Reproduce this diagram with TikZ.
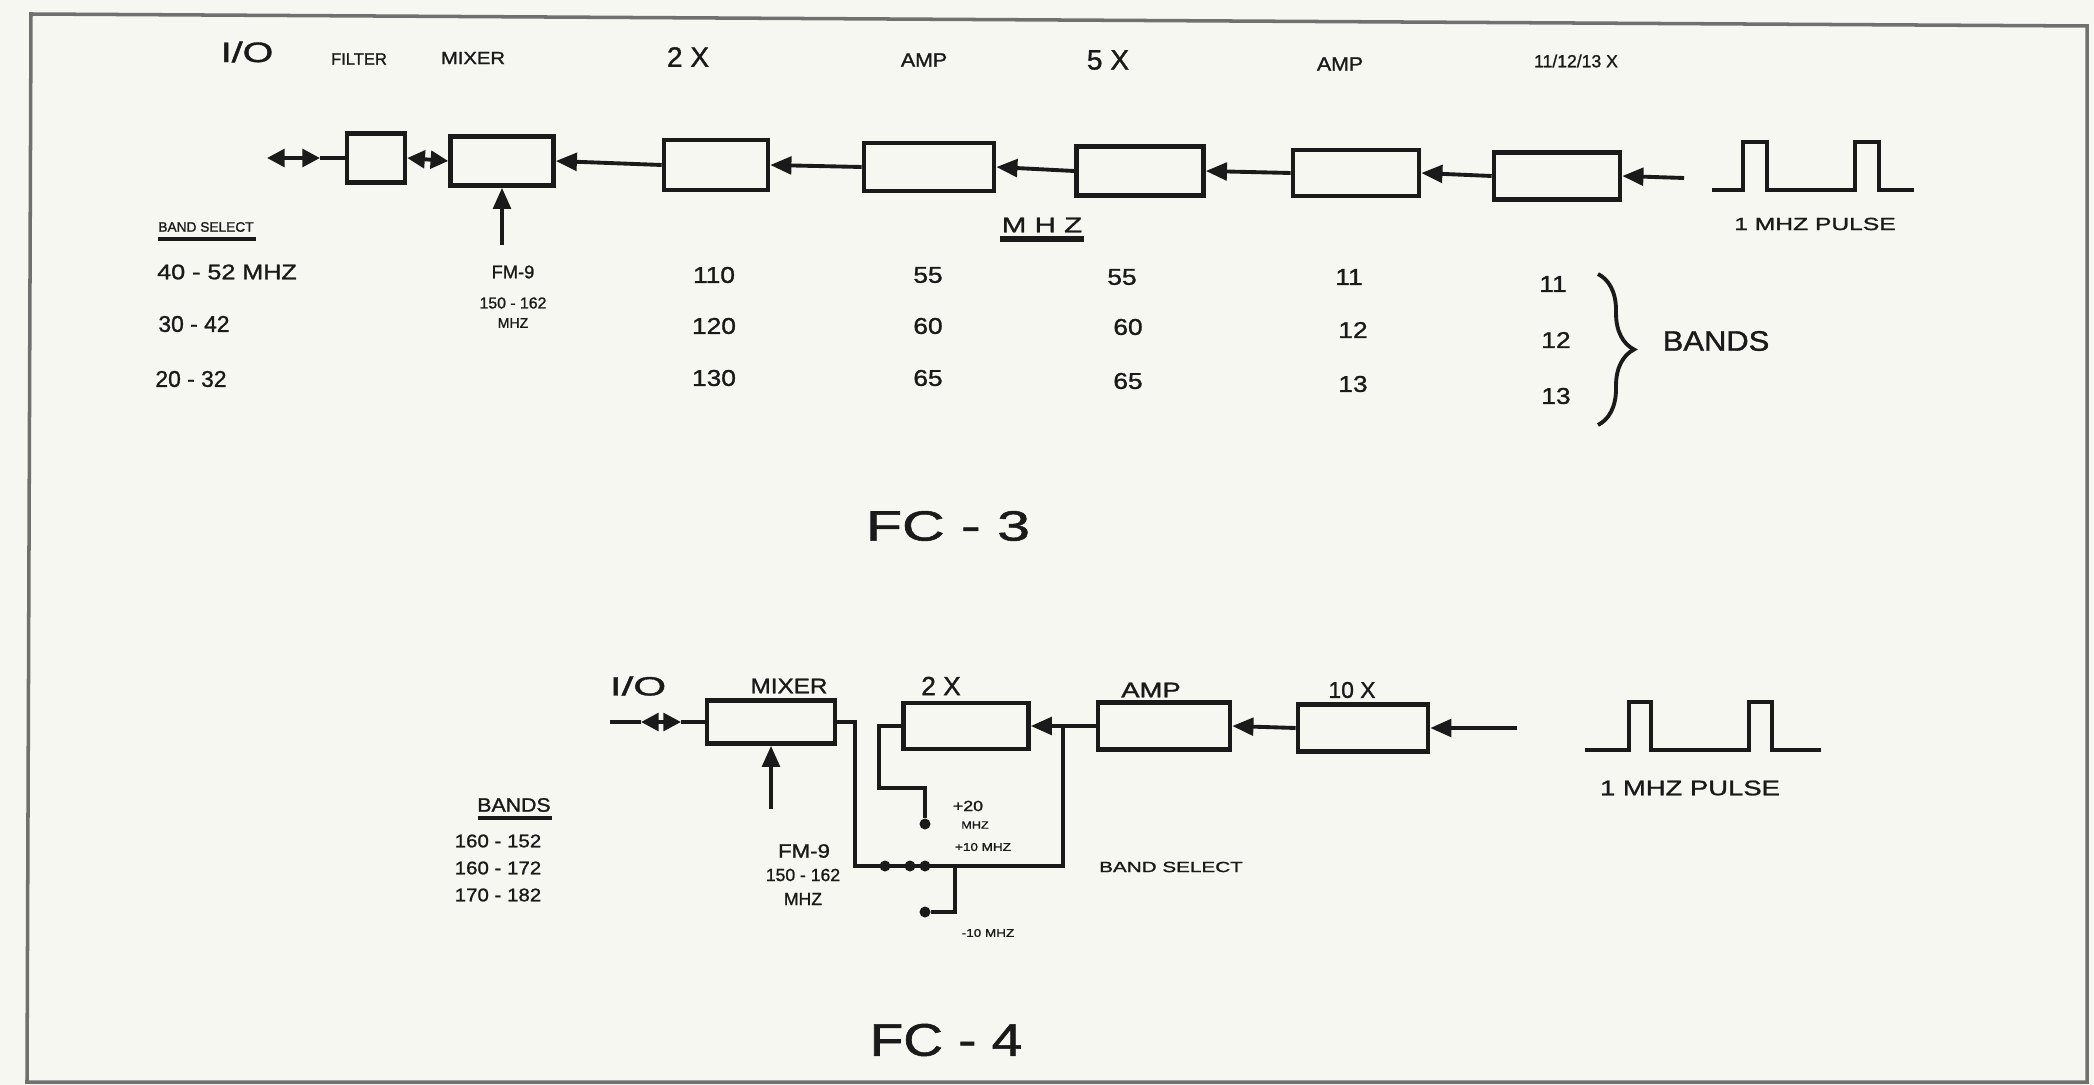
\documentclass[tikz,border=0pt]{standalone}
\usepackage{fontspec}
\setmainfont{Liberation Sans}
\newfontfamily\hwfont{Liberation Sans}[FakeBold=1.2]
\usetikzlibrary{arrows.meta,decorations.pathreplacing}
\definecolor{ink}{HTML}{1A1A1A}
\definecolor{paper}{HTML}{F7F7F2}
\definecolor{frame}{HTML}{707070}
\begin{document}
\begin{tikzpicture}[x=0.01cm,y=-0.01cm,
  box/.style={draw=ink, line width=1.3pt, inner sep=0pt},
  wire/.style={draw=ink, line width=1.1pt},
  arr/.style={wire, -{Triangle[length=6pt,width=5pt]}},
  dbl/.style={wire, {Triangle[length=5pt,width=5pt]}-{Triangle[length=5pt,width=5pt]}},
  lbl/.style={inner sep=0pt, text=ink, font=\hwfont\fontsize{#1}{#1}\selectfont},
  dot/.style={circle, fill=ink, inner sep=0pt, minimum size=0.11cm},
  uline/.style={draw=ink, line width=1.2pt}
]
\useasboundingbox (0,0) rectangle (2094,1085);
\fill[paper] (0,0) rectangle (2094,1085);
\draw[frame, line width=1pt] (31,14) -- (2087,26) -- (2087,1082) -- (27,1082) -- cycle;

% ================= FC-3 =================
\node[box, minimum width=0.58cm, minimum height=0.49cm] (f3)  at (376,158) {};
\node[box, minimum width=1.03cm, minimum height=0.49cm] (m3)  at (502,161) {};
\node[box, minimum width=1.04cm, minimum height=0.50cm] (x23) at (716,165) {};
\node[box, minimum width=1.30cm, minimum height=0.48cm] (a31) at (929,167) {};
\node[box, minimum width=1.27cm, minimum height=0.49cm] (x53) at (1140,171) {};
\node[box, minimum width=1.26cm, minimum height=0.46cm] (a32) at (1356,173) {};
\node[box, minimum width=1.26cm, minimum height=0.47cm] (n3)  at (1557,176) {};

\coordinate (in3) at (1684,178);
\coordinate (io3) at (267,158);
\coordinate (k3)  at (320,158);
\coordinate (fm3) at (502,245);

\draw[arr] (in3) -- (n3.east);
\draw[arr] (n3.west) -- (a32.east);
\draw[arr] (a32.west) -- (x53.east);
\draw[arr] (x53.west) -- (a31.east);
\draw[arr] (a31.west) -- (x23.east);
\draw[arr] (x23.west) -- (m3.east);
\draw[dbl] (m3.west) -- (f3.east);
\draw[wire] (f3.west) -- (k3);
\draw[dbl] (k3) -- (io3);
\draw[arr] (fm3) -- (m3.south);

% pulse
\draw[wire] (1712,190) -- (1743,190) -- (1743,142) -- (1767,142) -- (1767,190)
  -- (1855,190) -- (1855,142) -- (1879,142) -- (1879,190) -- (1914,190);

% labels
\node[lbl=8, xscale=1.4]   (l3io)  at (247,52) {I/O};
\node[lbl=4.7]             (l3f)   at (359,59) {FILTER};
\node[lbl=5, xscale=1.15]  (l3m)   at (473,58) {MIXER};
\node[lbl=8]               (l32x)  at (688,57) {2 X};
\node[lbl=5.5, xscale=1.1] (l3a1)  at (924,60) {AMP};
\node[lbl=8]               (l35x)  at (1108,60) {5 X};
\node[lbl=5.5, xscale=1.1] (l3a2)  at (1340,64) {AMP};
\node[lbl=5]               (l3n)   at (1576,61) {11/12/13 X};

\node[lbl=3.9]             (l3bs)  at (206,227) {BAND SELECT};
\draw[uline] (158,239) -- (256,239);
\node[lbl=6, xscale=1.19]  (l3b1)  at (227,272) {40 - 52 MHZ};
\node[lbl=6.5]             (l3b2)  at (194,324) {30 - 42};
\node[lbl=6.5]             (l3b3)  at (191,379) {20 - 32};

\node[lbl=5.2]             (l3fm)  at (513,272) {FM-9};
\node[lbl=4.5]             (l3fr)  at (513,303) {150 - 162};
\node[lbl=4]               (l3fu)  at (513,323) {MHZ};

\node[lbl=6, xscale=1.4]   (l3mhz) at (1042,225) {M H Z};
\draw[uline, line width=1.6pt] (1000,239) -- (1084,239);

\node[lbl=6.5, xscale=1.15] at (714,275) {110};
\node[lbl=6.5, xscale=1.15] at (714,326) {120};
\node[lbl=6.5, xscale=1.15] at (714,378) {130};
\node[lbl=6.5, xscale=1.15] at (928,275) {55};
\node[lbl=6.5, xscale=1.15] at (928,326) {60};
\node[lbl=6.5, xscale=1.15] at (928,378) {65};
\node[lbl=6.5, xscale=1.15] at (1122,277) {55};
\node[lbl=6.5, xscale=1.15] at (1128,327) {60};
\node[lbl=6.5, xscale=1.15] at (1128,381) {65};
\node[lbl=6.5, xscale=1.15] at (1349,277) {11};
\node[lbl=6.5, xscale=1.15] at (1353,330) {12};
\node[lbl=6.5, xscale=1.15] at (1353,384) {13};
\node[lbl=6.5, xscale=1.15] at (1553,284) {11};
\node[lbl=6.5, xscale=1.15] at (1556,340) {12};
\node[lbl=6.5, xscale=1.15] at (1556,396) {13};

\draw[wire, decorate, decoration={brace, amplitude=0.36cm}] (1598,274) -- (1598,425);
\node[lbl=8, xscale=1.1]   (l3bands) at (1716,341) {BANDS};
\node[lbl=5, xscale=1.4]   (l3pul)   at (1815,224) {1 MHZ PULSE};
\node[lbl=12, xscale=1.4]  (fc3)     at (948,526) {FC - 3};

% ================= FC-4 =================
\node[box, minimum width=1.28cm, minimum height=0.43cm] (m4)  at (771,722) {};
\node[box, minimum width=1.25cm, minimum height=0.46cm] (x24) at (966,726) {};
\node[box, minimum width=1.32cm, minimum height=0.47cm] (a4)  at (1164,726) {};
\node[box, minimum width=1.30cm, minimum height=0.47cm] (t4)  at (1363,728) {};

\coordinate (in4) at (1517,728);
\coordinate (io4) at (610,722);
\coordinate (p4)  at (641,722);
\coordinate (q4)  at (681,722);
\coordinate (fm4) at (771,809);
\coordinate (j4)  at (1063,726);
\coordinate (c1)  at (855,866);
\coordinate (c2)  at (1063,866);
\coordinate (c3)  at (879,788);
\coordinate (t1)  at (955,866);

\draw[arr] (in4) -- (t4.east);
\draw[arr] (t4.west) -- (a4.east);
\draw[arr] (a4.west) -- (x24.east);
\draw[wire] (io4) -- (p4);
\draw[dbl] (p4) -- (q4);
\draw[wire] (q4) -- (m4.west);
\draw[arr] (fm4) -- (m4.south);

\draw[wire] (m4.east) -| (c1) -- (c2) -- (j4);
\node[dot] (d1) at (885,866) {};
\node[dot] (d2) at (910,866) {};
\node[dot] (d3) at (925,866) {};
\node[dot] (d4) at (925,824) {};
\node[dot] (d5) at (925,912) {};
\draw[wire] (x24.west) -| (c3) -| (d4);
\draw[wire] (t1) |- (d5);

% pulse
\draw[wire] (1585,750) -- (1629,750) -- (1629,702) -- (1651,702) -- (1651,750)
  -- (1749,750) -- (1749,702) -- (1772,702) -- (1772,750) -- (1821,750);

% labels
\node[lbl=7.5, xscale=1.6] (l4io)  at (638,686) {I/O};
\node[lbl=6, xscale=1.15]  (l4m)   at (789,686) {MIXER};
\node[lbl=7.5]             (l42x)  at (941,686) {2 X};
\node[lbl=6, xscale=1.3]   (l4a)   at (1151,690) {AMP};
\node[lbl=6.5]             (l410)  at (1352,690) {10 X};

\node[lbl=5.5, xscale=1.1] (l4b)   at (514,805) {BANDS};
\draw[uline] (478,818) -- (552,818);
\node[lbl=5.2, xscale=1.12] (l4b1) at (498,841) {160 - 152};
\node[lbl=5.2, xscale=1.12] (l4b2) at (498,868) {160 - 172};
\node[lbl=5.2, xscale=1.12] (l4b3) at (498,895) {170 - 182};

\node[lbl=5.5, xscale=1.15] (l4fm) at (804,851) {FM-9};
\node[lbl=5]               (l4fr)  at (803,875) {150 - 162};
\node[lbl=5]               (l4fu)  at (803,899) {MHZ};

\node[lbl=4.2, xscale=1.2] (l4p20) at (968,806) {+20};
\node[lbl=3, xscale=1.2]   (l4p20u) at (975,825) {MHZ};
\node[lbl=3.2, xscale=1.2] (l4p10) at (983,847) {+10 MHZ};
\node[lbl=3.2, xscale=1.2] (l4m10) at (988,933) {-10 MHZ};
\node[lbl=4.2, xscale=1.4] (l4bs)  at (1171,867) {BAND SELECT};
\node[lbl=6, xscale=1.3]   (l4pul) at (1690,788) {1 MHZ PULSE};
\node[lbl=13, xscale=1.2]  (fc4)   at (946,1040) {FC - 4};
\end{tikzpicture}
\end{document}
